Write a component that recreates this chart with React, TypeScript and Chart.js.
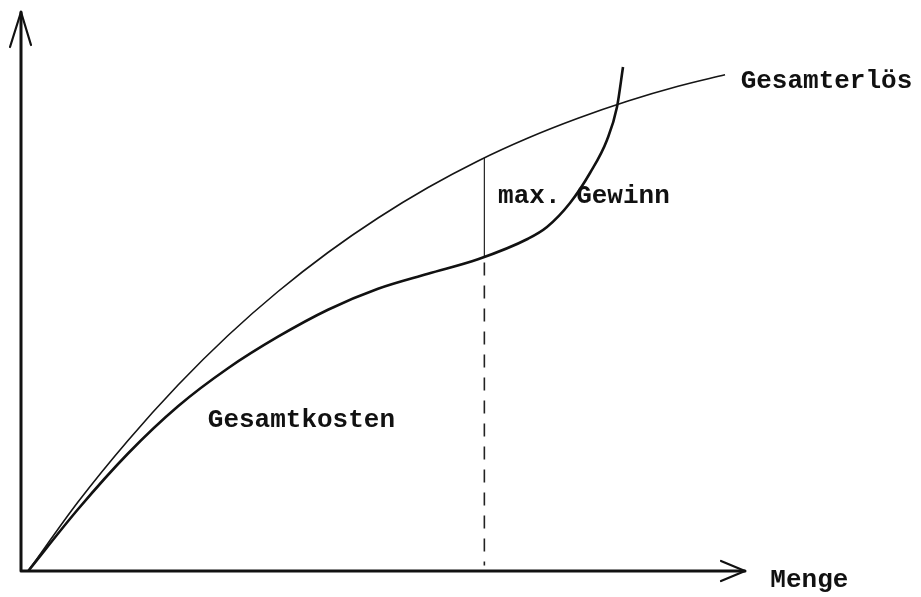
import React, { useEffect, useRef } from "react";
import { Chart, registerables } from "chart.js";

Chart.register(...registerables);

// Menge (x) values and the two totals (scale 0..100)
const revenueX = [1.0, 7.87, 14.78, 21.69, 28.59, 35.5, 42.4, 49.31, 56.22, 63.12, 70.03, 76.93, 83.84, 90.75, 97.24];
const revenueY = [0, 12.33, 23.35, 33.27, 42.13, 50.0, 56.98, 63.15, 68.6, 73.36, 77.46, 80.99, 84.08, 86.72, 88.78];

const costX = [1.0, 7.87, 14.78, 21.69, 28.59, 35.5, 42.4, 49.31, 56.22, 63.12, 70.03, 72.65, 75.83, 78.59, 80.94, 82.32, 83.15];
const costY = [0, 11.05, 21.02, 29.47, 36.27, 41.91, 46.74, 50.49, 53.18, 55.77, 59.44, 61.54, 65.83, 71.2, 77.1, 83.0, 90.16];

// optimum quantity (max. Gewinn)
const optimumX = 64.0;
const optimumRevenue = 73.9;
const optimumCost = 56.2;

const labelTexts = ["Gesamterlös", "max. Gewinn", "Gesamtkosten", "Menge"];
const labelX = [99.4, 65.9, 25.8, 103.5];
const labelY = [86.4, 65.8, 25.8, -2.9];

const toPoints = (xs: number[], ys: number[]) => xs.map((x, i) => ({ x, y: ys[i] }));

const axesPlugin = {
  id: "axesAndLabels",
  afterDatasetsDraw(chart: any) {
    const { ctx, scales } = chart;
    const xs = scales.x;
    const ys = scales.y;
    const x0 = xs.getPixelForValue(0);
    const y0 = ys.getPixelForValue(0);
    const xEnd = xs.getPixelForValue(100);
    const yEnd = ys.getPixelForValue(100);
    ctx.save();
    ctx.strokeStyle = "#111";
    ctx.lineCap = "round";
    ctx.lineJoin = "round";
    ctx.lineWidth = 3;
    // axes
    ctx.beginPath();
    ctx.moveTo(x0, y0);
    ctx.lineTo(xEnd, y0);
    ctx.moveTo(x0, y0);
    ctx.lineTo(x0, yEnd);
    ctx.stroke();
    // arrowheads
    ctx.lineWidth = 2.2;
    ctx.beginPath();
    ctx.moveTo(xEnd - 24, y0 - 10);
    ctx.lineTo(xEnd, y0);
    ctx.lineTo(xEnd - 24, y0 + 10);
    ctx.moveTo(x0 - 11, yEnd + 35);
    ctx.lineTo(x0, yEnd);
    ctx.lineTo(x0 + 10, yEnd + 33);
    ctx.stroke();
    // labels
    ctx.fillStyle = "#111";
    ctx.font = "bold 26px 'Liberation Mono', 'DejaVu Sans Mono', monospace";
    ctx.textBaseline = "alphabetic";
    ctx.textAlign = "left";
    labelTexts.forEach((t, i) => {
      ctx.fillText(t, xs.getPixelForValue(labelX[i]), ys.getPixelForValue(labelY[i]));
    });
    ctx.restore();
  },
};

export default function App() {
  const ref = useRef<HTMLCanvasElement | null>(null);
  useEffect(() => {
    if (!ref.current) return;
    const chart = new Chart(ref.current, {
      type: "scatter",
      data: {
        datasets: [
          {
            label: "Gesamterlös",
            data: toPoints(revenueX, revenueY),
            showLine: true,
            borderColor: "#151515",
            borderWidth: 1.6,
            pointRadius: 0,
            cubicInterpolationMode: "monotone",
            clip: false,
          },
          {
            label: "Gesamtkosten",
            data: toPoints(costX, costY),
            showLine: true,
            borderColor: "#111",
            borderWidth: 2.6,
            pointRadius: 0,
            cubicInterpolationMode: "monotone",
            clip: false,
          },
          {
            label: "max. Gewinn",
            data: [
              { x: optimumX, y: optimumCost },
              { x: optimumX, y: optimumRevenue },
            ],
            showLine: true,
            borderColor: "#222",
            borderWidth: 1.2,
            pointRadius: 0,
            clip: false,
          },
          {
            label: "Optimum",
            data: [
              { x: optimumX, y: optimumCost - 1 },
              { x: optimumX, y: 1 },
            ],
            showLine: true,
            borderColor: "#222",
            borderWidth: 1.6,
            borderDash: [13, 10],
            pointRadius: 0,
            clip: false,
          },
        ],
      },
      options: {
        animation: false,
        responsive: false,
        layout: { padding: { left: 21, right: 176, top: 12, bottom: 26 } },
        plugins: { legend: { display: false }, tooltip: { enabled: false } },
        scales: {
          x: { type: "linear", min: 0, max: 100, display: false },
          y: { type: "linear", min: 0, max: 100, display: false },
        },
      },
      plugins: [axesPlugin],
    });
    return () => chart.destroy();
  }, []);
  return (
    <div style={{ position: "absolute", left: 0, top: 0, width: 921, height: 597, background: "#fff" }}>
      <canvas ref={ref} width={921} height={597} />
    </div>
  );
}
